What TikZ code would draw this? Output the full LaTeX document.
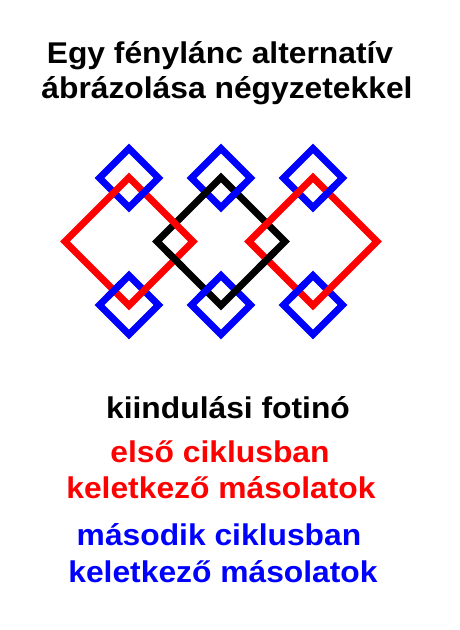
\documentclass[tikz,border=0pt]{standalone}
\usepackage{fontspec}
\setmainfont{Liberation Sans}[FakeStretch=1.06]
\begin{document}
\begin{tikzpicture}[x=1pt,y=-1pt,
  sq/.style={line width=7pt,line join=miter,miter limit=10},
  bigred/.style={sq,draw=red},
  bigblack/.style={sq,draw=black},
  smallblue/.style={sq,draw=blue},
  patchblack/.style={line width=7pt,draw=black,line cap=butt},
  patchblue/.style={line width=7pt,draw=blue,line cap=butt},
  lbl/.style={anchor=base,inner sep=0pt,font=\bfseries\fontsize{30}{36}\selectfont}]
\useasboundingbox[fill=white] (0,0) rectangle (460,630);
\def\diam#1#2#3{(#1-#3,#2) -- (#1,#2-#3) -- (#1+#3,#2) -- (#1,#2+#3) -- cycle}
% blue squares (second cycle copies)
\foreach \cx in {129,221,313}{
  \draw[smallblue] \diam{\cx}{178}{29.5};
  \draw[smallblue] \diam{\cx}{305}{29.5};
}
% black square (initial photino)
\draw[bigblack] \diam{221}{241.5}{64};
% red squares (first cycle copies)
\draw[bigred] \diam{129}{241.5}{64};
\draw[bigred] \diam{313}{241.5}{64};
% black over red at the lower crossings
\draw[patchblack] (167,251.5) -- (183,267.5);
\draw[patchblack] (275,251.5) -- (259,267.5);
% blue over the big squares: right crossing on top, left crossing on bottom
\foreach \cx in {129,221,313}{
  \draw[patchblue] ({\cx+14.75-7},{192.75+7}) -- ({\cx+14.75+7},{192.75-7});
  \draw[patchblue] ({\cx-14.75-7},{290.25+7}) -- ({\cx-14.75+7},{290.25-7});
}
% texts
\node[lbl] (t1) at (220,63) {Egy fénylánc alternatív};
\node[lbl] (t2) at (227,98) {ábrázolása négyzetekkel};
\node[lbl] (k1) at (228,418) {kiindulási fotinó};
\node[lbl,text=red] (r1) at (220,462) {első ciklusban};
\node[lbl,text=red] (r2) at (221,498) {keletkező másolatok};
\node[lbl,text=blue] (b1) at (219,545) {második ciklusban};
\node[lbl,text=blue] (b2) at (223,582) {keletkező másolatok};
\end{tikzpicture}
\end{document}
